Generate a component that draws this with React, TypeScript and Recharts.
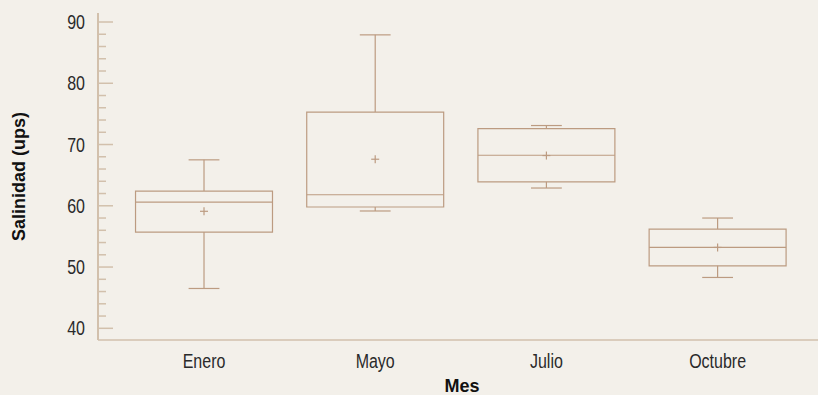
import {
  ComposedChart,
  XAxis,
  YAxis,
  Scatter,
  ReferenceArea,
  ReferenceLine,
} from "recharts";

// Salinidad por mes (boxplot)
const months = ["Enero", "Mayo", "Julio", "Octubre"];
const minVals = [46.5, 59.15, 62.9, 48.3];
const q1Vals = [55.7, 59.8, 63.9, 50.2];
const medianVals = [60.6, 61.8, 68.25, 53.2];
const q3Vals = [62.4, 75.3, 72.6, 56.2];
const maxVals = [67.5, 87.9, 73.1, 58.0];
const meanVals = [59.1, 67.6, 68.2, 53.2];

const majorTicks = [40, 50, 60, 70, 80, 90];
const allTicks = [40, 42, 44, 46, 48, 50, 52, 54, 56, 58, 60, 62, 64, 66, 68, 70, 72, 74, 76, 78, 80, 82, 84, 86, 88, 90];

const BG = "#F3F0EA";
const LINE = "#BC9B81";
const AXIS = "#D2C0AC";
const TEXT = "#2a2a2a";
const FONT = "'Liberation Sans', Arial, sans-serif";

const HALF_BOX = 0.4;
const HALF_CAP = 0.09;

const data = months.map((m, i) => ({ x: i + 1, name: m, mean: meanVals[i] }));

// narrow text: Liberation Sans squeezed horizontally (no condensed face installed)
function NarrowText({ x, y, anchor, children }: any) {
  return (
    <text
      transform={`translate(${x},${y}) scale(0.8,1)`}
      textAnchor={anchor}
      fill={TEXT}
      fontSize={20}
      fontFamily={FONT}
    >
      {children}
    </text>
  );
}

function LeftTick({ x, y, payload }: any) {
  const major = payload.value % 10 === 0;
  return (
    <g>
      <line x1={x} x2={x + (major ? 15 : 8)} y1={y} y2={y} stroke={AXIS} strokeWidth={1.5} />
      {major && (
        <NarrowText x={x - 13} y={y + 7} anchor="end">
          {payload.value}
        </NarrowText>
      )}
    </g>
  );
}

function RightTick({ x, y }: any) {
  return <line x1={x - 7} x2={x} y1={y} y2={y} stroke={AXIS} strokeWidth={1.5} />;
}

function MonthTick({ x, y, payload }: any) {
  return (
    <NarrowText x={x} y={y + 28} anchor="middle">
      {months[payload.value - 1]}
    </NarrowText>
  );
}

function MesLabel({ viewBox }: any) {
  const vb = viewBox || { x: 98, y: 340, width: 720, height: 55 };
  return (
    <text
      x={vb.x + vb.width / 2 + 4}
      y={vb.y + 52}
      textAnchor="middle"
      fill="#111"
      fontSize={18}
      fontWeight="bold"
      fontFamily={FONT}
    >
      Mes
    </text>
  );
}

function SalLabel({ viewBox }: any) {
  const vb = viewBox || { x: 0, y: 13, width: 98, height: 327 };
  const cy = vb.y + vb.height / 2;
  return (
    <text
      transform={`translate(25,${cy}) rotate(-90)`}
      textAnchor="middle"
      fill="#111"
      fontSize={18}
      fontWeight="bold"
      fontFamily={FONT}
    >
      Salinidad (ups)
    </text>
  );
}

function MeanCross({ cx, cy }: any) {
  return (
    <g>
      <line x1={cx - 4} x2={cx + 4} y1={cy} y2={cy} stroke={LINE} strokeWidth={1.2} />
      <line x1={cx} x2={cx} y1={cy - 4} y2={cy + 4} stroke={LINE} strokeWidth={1.2} />
    </g>
  );
}

export default function App() {
  return (
    <div style={{ width: 818, height: 395, background: BG }}>
      <style>{`body{margin:0;background:${BG}}`}</style>
      <ComposedChart width={818} height={395} data={data} margin={{ top: 13, right: 0, bottom: 0, left: 0 }}>
        <XAxis
          dataKey="x"
          type="number"
          domain={[0.3808, 4.5864]}
          ticks={[1, 2, 3, 4]}
          tick={<MonthTick />}
          tickLine={false}
          tickSize={0}
          tickMargin={0}
          height={55}
          axisLine={{ stroke: AXIS, strokeWidth: 1.5 }}
          allowDataOverflow
          label={<MesLabel />}
        />
        <XAxis
          xAxisId="top"
          orientation="top"
          type="number"
          domain={[0.3808, 4.5864]}
          height={0}
          tick={false}
          tickLine={false}
          axisLine={{ stroke: AXIS, strokeWidth: 1.5 }}
        />
        <YAxis
          type="number"
          domain={[38.09, 91.47]}
          ticks={allTicks}
          interval={0}
          tick={<LeftTick />}
          tickLine={false}
          tickSize={0}
          tickMargin={0}
          width={98}
          axisLine={{ stroke: AXIS, strokeWidth: 2 }}
          allowDataOverflow
          label={<SalLabel />}
        />
        <YAxis
          yAxisId="right"
          orientation="right"
          type="number"
          domain={[38.09, 91.47]}
          ticks={majorTicks}
          interval={0}
          tick={<RightTick />}
          tickLine={false}
          tickSize={0}
          tickMargin={0}
          width={0}
          axisLine={false}
          allowDataOverflow
        />

        {months.map((m, i) => (
          <ReferenceLine
            key={"wu" + m}
            segment={[{ x: i + 1, y: q3Vals[i] }, { x: i + 1, y: maxVals[i] }]}
            stroke={LINE}
            strokeWidth={1.2}
          />
        ))}
        {months.map((m, i) => (
          <ReferenceLine
            key={"wl" + m}
            segment={[{ x: i + 1, y: minVals[i] }, { x: i + 1, y: q1Vals[i] }]}
            stroke={LINE}
            strokeWidth={1.2}
          />
        ))}
        {months.map((m, i) => (
          <ReferenceLine
            key={"cu" + m}
            segment={[{ x: i + 1 - HALF_CAP, y: maxVals[i] }, { x: i + 1 + HALF_CAP, y: maxVals[i] }]}
            stroke={LINE}
            strokeWidth={1.2}
          />
        ))}
        {months.map((m, i) => (
          <ReferenceLine
            key={"cl" + m}
            segment={[{ x: i + 1 - HALF_CAP, y: minVals[i] }, { x: i + 1 + HALF_CAP, y: minVals[i] }]}
            stroke={LINE}
            strokeWidth={1.2}
          />
        ))}
        {months.map((m, i) => (
          <ReferenceArea
            key={"box" + m}
            x1={i + 1 - HALF_BOX}
            x2={i + 1 + HALF_BOX}
            y1={q1Vals[i]}
            y2={q3Vals[i]}
            fill="none"
            fillOpacity={0}
            stroke={LINE}
            strokeWidth={1.2}
            strokeOpacity={1}
          />
        ))}
        {months.map((m, i) => (
          <ReferenceLine
            key={"med" + m}
            segment={[{ x: i + 1 - HALF_BOX, y: medianVals[i] }, { x: i + 1 + HALF_BOX, y: medianVals[i] }]}
            stroke={LINE}
            strokeWidth={1.2}
          />
        ))}
        <Scatter dataKey="mean" shape={<MeanCross />} isAnimationActive={false} />
      </ComposedChart>
    </div>
  );
}
